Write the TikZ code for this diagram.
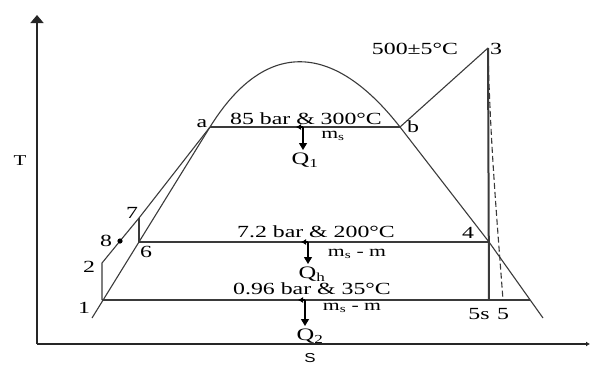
\documentclass[tikz,border=0pt]{standalone}
\usepackage{fontspec}
\setmainfont{Liberation Serif}[FakeStretch=1.4]
\newfontfamily\axisfont{Liberation Sans}[FakeStretch=1.3]
\usetikzlibrary{arrows.meta}
\definecolor{inkgray}{HTML}{3A3A3A}

\begin{document}
\begin{tikzpicture}[x=1pt, y=-1pt,
    curve/.style   = {draw=inkgray, line width=1.1pt},
    isobar/.style  = {draw=inkgray, line width=1.4pt},
    axis/.style    = {draw=black!85, line width=1.6pt},
    lbl/.style     = {font=\fontsize{17}{20}\selectfont, inner sep=0pt, anchor=base},
    flowlbl/.style = {font=\fontsize{15.5}{18}\selectfont, inner sep=0pt, anchor=base},
    qnode/.style   = {font=\fontsize{17.5}{20}\selectfont, inner sep=0pt, outer sep=3pt, anchor=north},
    heat/.style    = {-{Triangle[length=7pt,width=8pt]}, line width=1.1pt},
    flowtip/.style = {-{Latex[length=5pt,width=6pt]}, line width=1.6pt}
  ]
  \useasboundingbox (0,0) rectangle (592,365);

  % ── State points ─────────────────────────────────────────────────────────
  \coordinate (p1)  at (102,300);
  \coordinate (p2)  at (102,263);
  \coordinate (p8)  at (120,241);
  \coordinate (p7)  at (139,218);
  \coordinate (p6)  at (139,242);
  \coordinate (pa)  at (210,127);
  \coordinate (pb)  at (400,127);
  \coordinate (p3)  at (488,48);
  \coordinate (p4)  at (489,242);
  \coordinate (p5s) at (489,300);
  \coordinate (p5)  at (503,300);
  \coordinate (d0)  at (92,318);
  \coordinate (d1)  at (543,318);
  \coordinate (dlo) at (530,300);

  % ── Axes ─────────────────────────────────────────────────────────────────
  \coordinate (origin) at (37,344);
  \coordinate (tend)   at (37,15);
  \coordinate (send)   at (590,344);
  \draw[axis, -{Triangle[length=8pt,width=13pt]}] (origin) -- (tend);
  \draw[axis, line width=1.3pt, -{Latex[length=4pt,width=5pt]}] (origin) -- (send);
  \node[lbl, font=\fontsize{15}{18}\selectfont] (Tlbl) at (20,165) {T};
  \node[lbl, font=\axisfont\fontsize{13}{16}\selectfont] (Slbl) at (310,362) {S};

  % ── Saturation dome ──────────────────────────────────────────────────────
  \draw[curve] (d0) -- (pa) .. controls (264,40) and (332,40) .. (pb) -- (p4) -- (d1);

  % ── Cycle ────────────────────────────────────────────────────────────────
  \draw[curve] (p1) -- (p2) -- (p8) -- (p7) -- (pa);
  \draw[curve] (p6) -- (p7);
  \draw[curve] (pb) -- (p3);
  \draw[draw=inkgray, line width=2pt] (p3) -- (p5s);
  \draw[curve, dash pattern=on 6pt off 3pt] (p3) .. controls (490,140) and (497,220) .. (p5);
  \draw[isobar] (pa) -- (pb);
  \draw[isobar] (p6) -- (p4);
  \draw[isobar] (p1) -- (dlo);
  \fill (p8) circle (2.6pt);

  % ── Heat flows ───────────────────────────────────────────────────────────
  \coordinate (h1) at (303,127);
  \coordinate (hh) at (308,242);
  \coordinate (h2) at (305,300);
  \node[qnode] (Q1) at (305,150) {Q\textsubscript{1}};
  \node[qnode] (Qh) at (312,264) {Q\textsubscript{h}};
  \node[qnode] (Q2) at (310,326) {Q\textsubscript{2}};
  \draw[heat] (h1) -- (h1 |- Q1.north);
  \draw[heat] (hh) -- (hh |- Qh.north);
  \draw[heat] (h2) -- (h2 |- Q2.north);
  \draw[flowtip] (h1) -- ++(-7,0);
  \draw[flowtip] (hh) -- ++(-7,0);
  \draw[flowtip] (h2) -- ++(-7,0);

  % ── Labels ───────────────────────────────────────────────────────────────
  \node[lbl] (top)  at (415,54)  {500±5°C};
  \node[lbl] (hp)   at (306,124) {85 bar \& 300°C};
  \node[lbl] (mp)   at (316,237) {7.2 bar \& 200°C};
  \node[lbl] (lp)   at (312,294) {0.96 bar \& 35°C};
  \node[flowlbl] (m1) at (333,138) {m\textsubscript{s}};
  \node[flowlbl] (m2) at (357,256) {m\textsubscript{s} - m};
  \node[flowlbl] (m3) at (352,310) {m\textsubscript{s} - m};
  \node[lbl] (l3)  at (496,54)  {3};
  \node[lbl] (la)  at (202,127) {a};
  \node[lbl] (lb)  at (413,132) {b};
  \node[lbl] (l4)  at (468,238) {4};
  \node[lbl] (l5s) at (479,319) {5s};
  \node[lbl] (l5)  at (503,319) {5};
  \node[lbl] (l1)  at (84,313)  {1};
  \node[lbl] (l2)  at (89,272)  {2};
  \node[lbl] (l8)  at (106,246) {8};
  \node[lbl] (l7)  at (132,218) {7};
  \node[lbl] (l6)  at (146,257) {6};

\end{tikzpicture}
\end{document}
